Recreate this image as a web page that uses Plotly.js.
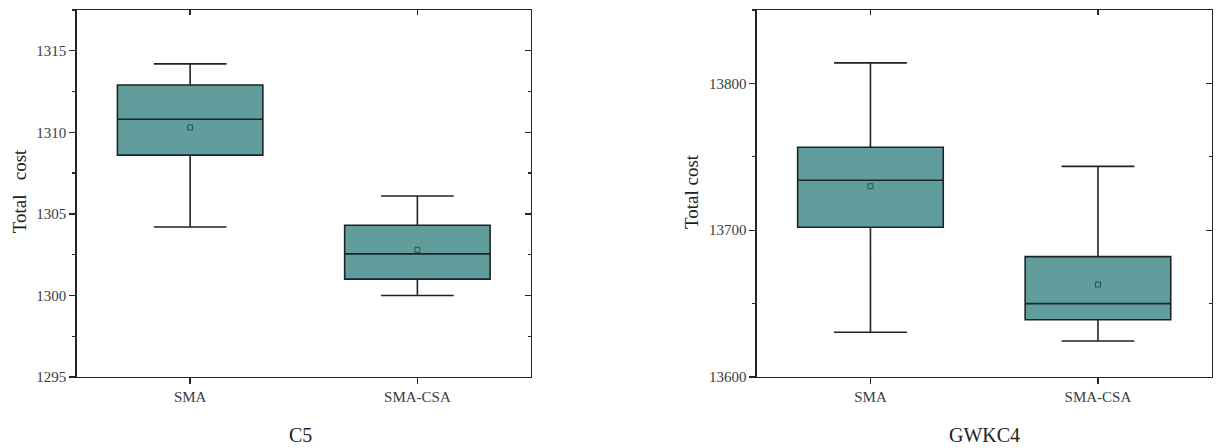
<!DOCTYPE html>
<html>
<head>
<meta charset="utf-8">
<script src="https://cdn.plot.ly/plotly-3.0.1.min.js"></script>
<style>
  html, body { margin: 0; padding: 0; background: #ffffff; }
  #chart { width: 1217px; height: 448px; }
</style>
</head>
<body>
<div id="chart"></div>
<script>
// ---- Data ----
const categories = ['SMA', 'SMA-CSA'];

// Panel C5
const c5Lower  = [1304.2, 1300.0];
const c5Q1     = [1308.6, 1301.0];
const c5Median = [1310.8, 1302.55];
const c5Q3     = [1312.9, 1304.3];
const c5Upper  = [1314.2, 1306.1];
const c5Mean   = [1310.3, 1302.8];

// Panel GWKC4
const gwLower  = [13630.5, 13624.5];
const gwQ1     = [13702, 13639];
const gwMedian = [13734, 13650];
const gwQ3     = [13756.5, 13682];
const gwUpper  = [13814, 13743.5];
const gwMean   = [13730, 13663];

// Axis ranges and texts
const c5Range = [1295, 1317.5];
const gwRange = [13600, 13850];
const panelTitles = ['C5', 'GWKC4'];
const yTitles = ['Total\u00a0\u00a0\u00a0cost', 'Total cost'];

// ---- Styles ----
const FONT = '"Liberation Serif", "Times New Roman", serif';
const boxFill = '#619d9d';
const boxLine = '#1c2424';
const axisColor = '#262626';
const tickFont = { family: FONT, size: 15, color: '#3c3c3c' };

function boxTrace(xa, ya, lower, q1, med, q3, upper) {
  return {
    type: 'box',
    xaxis: xa, yaxis: ya,
    x: categories,
    lowerfence: lower, q1: q1, median: med, q3: q3, upperfence: upper,
    width: 0.64,
    whiskerwidth: 0.5,
    fillcolor: boxFill,
    line: { color: boxLine, width: 1.6 },
    boxpoints: false,
    hoverinfo: 'skip'
  };
}
function meanTrace(xa, ya, mean) {
  return {
    type: 'scatter', mode: 'markers',
    xaxis: xa, yaxis: ya,
    x: categories, y: mean,
    marker: { symbol: 'square-open', size: 5, color: '#2a5050', line: { width: 1 } },
    hoverinfo: 'skip'
  };
}
function dummy(xa, ya) {
  return { type: 'scatter', mode: 'markers', xaxis: xa, yaxis: ya, x: [], y: [], hoverinfo: 'skip' };
}

const data = [
  boxTrace('x', 'y', c5Lower, c5Q1, c5Median, c5Q3, c5Upper),
  meanTrace('x', 'y', c5Mean),
  boxTrace('x2', 'y2', gwLower, gwQ1, gwMedian, gwQ3, gwUpper),
  meanTrace('x2', 'y2', gwMean),
  dummy('x3', 'y3'),
  dummy('x4', 'y4')
];

const W = 1217, H = 448;
const leftDom = [76.5 / W, 531 / W];
const rightDom = [756.7 / W, 1211.7 / W];
const yDom = [1 - 377 / H, 1 - 10 / H];

function catAxis(domain, anchor) {
  return {
    domain: domain, anchor: anchor,
    type: 'category', categoryorder: 'array', categoryarray: categories,
    range: [-0.5, 1.5],
    showline: true, linecolor: axisColor, linewidth: 1.3,
    ticks: 'outside', ticklen: 6, tickwidth: 1.3, tickcolor: axisColor,
    showgrid: false, zeroline: false, fixedrange: true,
    tickfont: tickFont
  };
}
function valAxis(domain, anchor, range, dtick) {
  return {
    domain: domain, anchor: anchor,
    range: range, tick0: range[0], dtick: dtick, tickformat: 'd',
    showline: true, linecolor: axisColor, linewidth: 1.3,
    ticks: 'outside', ticklen: 6, tickwidth: 1.3, tickcolor: axisColor,
    minor: { ticks: 'outside', ticklen: 3, tickwidth: 1.3, tickcolor: axisColor, dtick: dtick / 2, tick0: range[0], showgrid: false },
    showgrid: false, zeroline: false, fixedrange: true,
    tickfont: tickFont
  };
}
function topAxis(over, anchor) {
  return {
    overlaying: over, anchor: anchor, side: 'top',
    type: 'linear', range: [-0.5, 1.5], tickmode: 'array', tickvals: [0, 1],
    showticklabels: false,
    showline: true, linecolor: axisColor, linewidth: 1.3,
    ticks: 'inside', ticklen: 5, tickwidth: 1.3, tickcolor: axisColor,
    showgrid: false, zeroline: false, fixedrange: true
  };
}
function rightAxis(over, anchor, range, dtick) {
  return {
    overlaying: over, anchor: anchor, side: 'right',
    range: range, tick0: range[0], dtick: dtick,
    showticklabels: false,
    showline: true, linecolor: axisColor, linewidth: 1.3,
    ticks: 'inside', ticklen: 6, tickwidth: 1.3, tickcolor: axisColor,
    minor: { ticks: 'inside', ticklen: 3, tickwidth: 1.3, tickcolor: axisColor, dtick: dtick / 2, tick0: range[0], showgrid: false },
    showgrid: false, zeroline: false, fixedrange: true
  };
}

const layout = {
  width: W, height: H,
  margin: { l: 0, r: 0, t: 0, b: 0 },
  paper_bgcolor: '#ffffff', plot_bgcolor: '#ffffff',
  showlegend: false,
  xaxis: catAxis(leftDom, 'y'),
  yaxis: valAxis(yDom, 'x', c5Range, 5),
  xaxis2: catAxis(rightDom, 'y2'),
  yaxis2: valAxis(yDom, 'x2', gwRange, 100),
  xaxis3: topAxis('x', 'y'),
  yaxis3: rightAxis('y', 'x', c5Range, 5),
  xaxis4: topAxis('x2', 'y2'),
  yaxis4: rightAxis('y2', 'x2', gwRange, 100),
  annotations: [
    { text: panelTitles[0], xref: 'paper', yref: 'paper', x: 300 / W, y: 1 - 435 / H,
      xanchor: 'center', yanchor: 'middle', showarrow: false, borderpad: 0,
      font: { family: FONT, size: 20, color: '#222222' } },
    { text: panelTitles[1], xref: 'paper', yref: 'paper', x: 984 / W, y: 1 - 435 / H,
      xanchor: 'center', yanchor: 'middle', showarrow: false, borderpad: 0,
      font: { family: FONT, size: 20, color: '#222222' } },
    { text: yTitles[0], xref: 'paper', yref: 'paper', x: 19.6 / W, y: 1 - 191.7 / H,
      xanchor: 'center', yanchor: 'middle', textangle: -90, showarrow: false,
      font: { family: FONT, size: 19, color: '#222222' } },
    { text: yTitles[1], xref: 'paper', yref: 'paper', x: 691 / W, y: 1 - 192 / H,
      xanchor: 'center', yanchor: 'middle', textangle: -90, showarrow: false,
      font: { family: FONT, size: 19, color: '#222222' } }
  ]
};

Plotly.newPlot('chart', data, layout, { staticPlot: true, displayModeBar: false });
</script>
</body>
</html>
